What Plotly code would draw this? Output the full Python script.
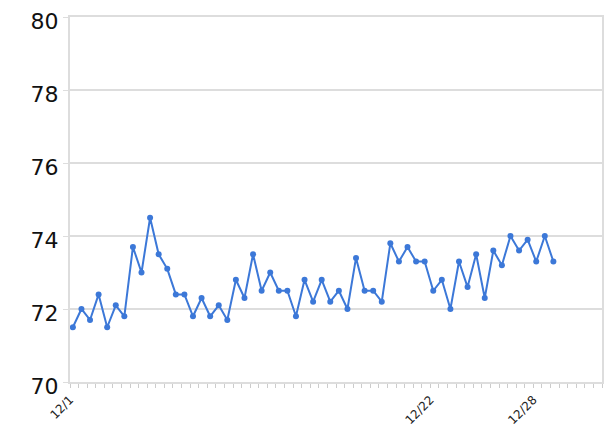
import plotly.graph_objects as go
import pandas as pd

start = pd.Timestamp("2012-12-01 04:00")
times = [start + pd.Timedelta(hours=12 * i) for i in range(57)]
values = [71.5, 72.0, 71.7, 72.4, 71.5, 72.1, 71.8, 73.7, 73.0, 74.5,
          73.5, 73.1, 72.4, 72.4, 71.8, 72.3, 71.8, 72.1, 71.7, 72.8,
          72.3, 73.5, 72.5, 73.0, 72.5, 72.5, 71.8, 72.8, 72.2, 72.8,
          72.2, 72.5, 72.0, 73.4, 72.5, 72.5, 72.2, 73.8, 73.3, 73.7,
          73.3, 73.3, 72.5, 72.8, 72.0, 73.3, 72.6, 73.5, 72.3, 73.6,
          73.2, 74.0, 73.6, 73.9, 73.3, 74.0, 73.3]
tick_dates = ["2012-12-01", "2012-12-22", "2012-12-28"]
tick_labels = ["12/1", "12/22", "12/28"]
y_ticks = [70, 72, 74, 76, 78, 80]

fig = go.Figure()
fig.add_trace(go.Scatter(
    x=times, y=values, mode="lines+markers",
    line=dict(color="#3c78d8", width=2),
    marker=dict(color="#3c78d8", size=6),
    showlegend=False,
))

grid = "#dddddd"
# the page body adds an 8px offset, so the figure is sized/margined to compensate
fig.update_layout(
    width=608, height=422,
    margin=dict(l=62, r=14, t=9, b=48, autoexpand=False),
    paper_bgcolor="white", plot_bgcolor="white",
    font=dict(family="DejaVu Sans", color="#222222"),
    xaxis=dict(
        type="date", automargin=False,
        range=["2012-12-01", "2013-01-01"],
        tickvals=tick_dates, ticktext=tick_labels,
        tickangle=-45, tickfont=dict(size=12, color="#222222"),
        ticklabeloverflow="allow",
        ticks="outside", ticklen=4, tickcolor="#cccccc",
        showgrid=False, zeroline=False,
        showline=True, linecolor=grid, linewidth=2, mirror=True,
        minor=dict(dtick=43200000, ticks="outside", ticklen=4,
                   tickcolor="#cccccc", showgrid=False),
    ),
    yaxis=dict(
        range=[70, 80], tickvals=y_ticks, automargin=False,
        tickfont=dict(size=22, color="#111111"),
        ticklabeloverflow="allow", ticklabelshift=4,
        ticks="outside", ticklen=5, tickcolor=grid,
        showgrid=True, gridcolor=grid, gridwidth=2,
        zeroline=False,
        showline=True, linecolor=grid, linewidth=2, mirror=True,
    ),
)

fig.write_html("out.html")
